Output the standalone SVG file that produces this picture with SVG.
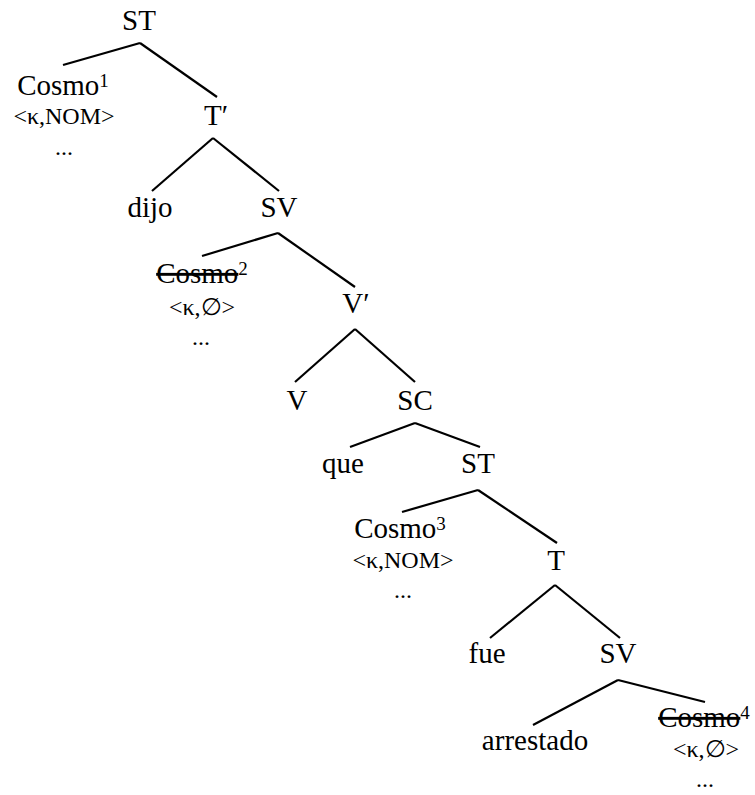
<svg xmlns="http://www.w3.org/2000/svg" width="755" height="795" viewBox="0 0 755 795">
<style>
text{font-family:"Liberation Serif","DejaVu Serif",serif;fill:#000;text-anchor:middle}
.n{font-size:29px}
.f{font-size:24px}
.sup{font-size:19px}
.del{text-decoration:line-through}
#edges line{stroke:#000;stroke-width:2.2;stroke-linecap:butt}
</style>
<rect width="755" height="795" fill="#fff"/>
<g id="edges">
<line x1="140" y1="43" x2="63" y2="65"/>
<line x1="140" y1="43" x2="217" y2="97"/>
<line x1="213" y1="138" x2="152" y2="191"/>
<line x1="213" y1="138" x2="279" y2="191"/>
<line x1="278" y1="233" x2="202" y2="256"/>
<line x1="278" y1="233" x2="355" y2="287"/>
<line x1="355" y1="329" x2="295" y2="382"/>
<line x1="355" y1="329" x2="415" y2="382"/>
<line x1="415" y1="423" x2="350" y2="447"/>
<line x1="415" y1="423" x2="480" y2="447"/>
<line x1="478" y1="490" x2="402" y2="512"/>
<line x1="478" y1="490" x2="557" y2="543"/>
<line x1="555" y1="585" x2="490" y2="638"/>
<line x1="555" y1="585" x2="620" y2="638"/>
<line x1="618" y1="680" x2="533" y2="725"/>
<line x1="618" y1="680" x2="705" y2="702"/>
</g>
<g id="st1"><text class="n" x="139" y="30">ST</text></g>
<g id="cosmo1">
<text class="n" x="63" y="95">Cosmo<tspan class="sup" dy="-8">1</tspan></text>
<text class="f" x="64" y="124">&lt;κ,NOM&gt;</text>
<text class="f" x="64" y="155">...</text>
</g>
<g id="tbar1"><text class="n" x="216" y="125">T′</text></g>
<g id="dijo"><text class="n" x="150" y="217">dijo</text></g>
<g id="sv1"><text class="n" x="279" y="217">SV</text></g>
<g id="cosmo2">
<text class="n" x="202" y="283"><tspan class="del">Cosmo</tspan><tspan class="sup" dy="-8">2</tspan></text>
<text class="f" x="202" y="315">&lt;κ,∅&gt;</text>
<text class="f" x="201" y="345">...</text>
</g>
<g id="vbar"><text class="n" x="356" y="313">V′</text></g>
<g id="v"><text class="n" x="297" y="410">V</text></g>
<g id="sc"><text class="n" x="415" y="410">SC</text></g>
<g id="que"><text class="n" x="343" y="473">que</text></g>
<g id="st2"><text class="n" x="478" y="473">ST</text></g>
<g id="cosmo3">
<text class="n" x="400" y="538">Cosmo<tspan class="sup" dy="-8">3</tspan></text>
<text class="f" x="403" y="568">&lt;κ,NOM&gt;</text>
<text class="f" x="403" y="598">...</text>
</g>
<g id="t"><text class="n" x="556" y="570">T</text></g>
<g id="fue"><text class="n" x="487" y="663">fue</text></g>
<g id="sv2"><text class="n" x="618" y="663">SV</text></g>
<g id="arrestado"><text class="n" x="535" y="750">arrestado</text></g>
<g id="cosmo4">
<text class="n" x="704" y="727"><tspan class="del">Cosmo</tspan><tspan class="sup" dy="-8">4</tspan></text>
<text class="f" x="706" y="757">&lt;κ,∅&gt;</text>
<text class="f" x="705" y="787">...</text>
</g>
</svg>
